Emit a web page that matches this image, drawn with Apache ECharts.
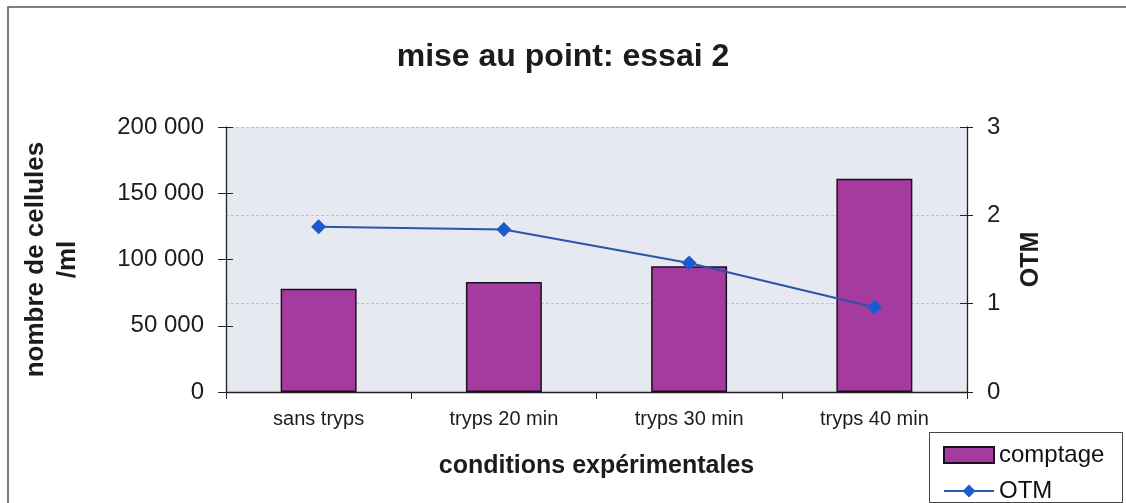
<!DOCTYPE html>
<html>
<head>
<meta charset="utf-8">
<script src="https://cdn.jsdelivr.net/npm/echarts@6/dist/echarts.min.js"></script>
<style>
  html, body { margin: 0; padding: 0; background: #fff; }
  #chart { width: 1126px; height: 503px; }
</style>
</head>
<body>
<div id="chart"></div>
<script>
// Conditions tested and their measurements
const categories = ['sans tryps', 'tryps 20 min', 'tryps 30 min', 'tryps 40 min'];
const comptage = [78000, 83000, 95000, 161000];   // cells / ml
const otm = [1.87, 1.84, 1.46, 0.96];

const countTicks = { min: 0, max: 200000, interval: 50000 };
const otmTicks = { min: 0, max: 3, interval: 1 };

const FONT = '"Liberation Sans", Arial, sans-serif';

function spaced(v) {
  return String(v).replace(/\B(?=(\d{3})+(?!\d))/g, ' ');
}

const chart = echarts.init(document.getElementById('chart'), null, { renderer: 'canvas' });

const axisLine = { show: true, lineStyle: { color: '#222', width: 1.3 } };

// one legend row per series, stacked inside a shared frame
function legendRow(name, top, icon) {
  const item = icon ? { name: name, icon: icon } : { name: name };
  return {
    orient: 'horizontal',
    left: 943,
    top: top,
    padding: 0,
    itemWidth: 50,
    itemHeight: 16,
    itemGap: 0,
    textStyle: { fontFamily: FONT, fontSize: 24, lineHeight: 16, color: '#111' },
    data: [item]
  };
}

chart.setOption({
  backgroundColor: '#fff',
  animation: false,
  title: {
    text: 'mise au point: essai 2',
    left: 'center',
    top: 36,
    textStyle: { fontFamily: FONT, fontWeight: 'bold', fontSize: 32, color: '#1c1c1c' }
  },
  graphic: [{
    type: 'rect',
    shape: { x: 8, y: 7, width: 1300, height: 700 },
    style: { fill: 'none', stroke: '#555', lineWidth: 1.5 },
    silent: true
  }, {
    type: 'rect',
    shape: { x: 929.5, y: 432.5, width: 193, height: 70 },
    style: { fill: '#fff', stroke: '#444', lineWidth: 1 },
    silent: true,
    z: 1
  }],
  legend: [
    legendRow('comptage', 443, 'rect'),
    legendRow('OTM', 479)
  ],
  grid: {
    left: 226, right: 159, top: 127, bottom: 111,
    show: true, backgroundColor: '#e7e9f1', borderWidth: 0
  },
  xAxis: [{
    type: 'category',
    data: categories,
    boundaryGap: true,
    axisLine: axisLine,
    axisTick: { show: true, alignWithLabel: false, length: 7, lineStyle: { color: '#222' } },
    axisLabel: { margin: 17, fontFamily: FONT, fontSize: 20, color: '#1c1c1c' },
    name: 'conditions expérimentales',
    nameLocation: 'middle',
    nameGap: 62,
    nameTextStyle: { fontFamily: FONT, fontWeight: 'bold', fontSize: 25, color: '#1c1c1c' }
  }],
  yAxis: [{
    type: 'value',
    position: 'left',
    min: countTicks.min, max: countTicks.max, interval: countTicks.interval,
    axisLine: axisLine,
    axisTick: { show: true, length: 8, lineStyle: { color: '#222' } },
    axisLabel: { margin: 22, fontFamily: FONT, fontSize: 24, color: '#1c1c1c', formatter: spaced },
    splitLine: { show: false },
    name: 'nombre de cellules\n/ml',
    nameLocation: 'middle',
    nameRotate: 90,
    nameGap: 142,
    nameTextStyle: { fontFamily: FONT, fontWeight: 'bold', fontSize: 26, lineHeight: 32, color: '#1c1c1c', align: 'center' }
  }, {
    type: 'value',
    position: 'right',
    min: otmTicks.min, max: otmTicks.max, interval: otmTicks.interval,
    axisLine: axisLine,
    axisTick: { show: true, length: 6, lineStyle: { color: '#222' } },
    axisLabel: { margin: 20, fontFamily: FONT, fontSize: 24, color: '#1c1c1c' },
    splitLine: { show: true, lineStyle: { color: '#c0c3ce', type: [3, 2], width: 1 } },
    name: 'OTM',
    nameLocation: 'middle',
    nameRotate: 90,
    nameGap: 52,
    nameTextStyle: { fontFamily: FONT, fontWeight: 'bold', fontSize: 25, color: '#1c1c1c' }
  }, {
    // inner half of the left-axis cross ticks
    type: 'value',
    position: 'left',
    min: countTicks.min, max: countTicks.max, interval: countTicks.interval,
    axisLine: { show: false },
    axisTick: { show: true, inside: true, length: 7, lineStyle: { color: '#222' } },
    axisLabel: { show: false },
    splitLine: { show: false }
  }, {
    // inner half of the right-axis cross ticks
    type: 'value',
    position: 'right',
    min: otmTicks.min, max: otmTicks.max, interval: otmTicks.interval,
    axisLine: { show: false },
    axisTick: { show: true, inside: true, length: 7, lineStyle: { color: '#222' } },
    axisLabel: { show: false },
    splitLine: { show: false }
  }],
  series: [{
    name: 'comptage',
    type: 'bar',
    yAxisIndex: 0,
    data: comptage,
    barWidth: '41%',
    itemStyle: { color: '#a53a9f', borderColor: '#1a1020', borderWidth: 1.5 }
  }, {
    name: 'OTM',
    type: 'line',
    yAxisIndex: 1,
    data: otm,
    symbol: 'diamond',
    symbolSize: 15,
    lineStyle: { color: '#2a55a8', width: 2 },
    itemStyle: { color: '#1c5ad2' },
    z: 5
  }]
});
</script>
</body>
</html>
